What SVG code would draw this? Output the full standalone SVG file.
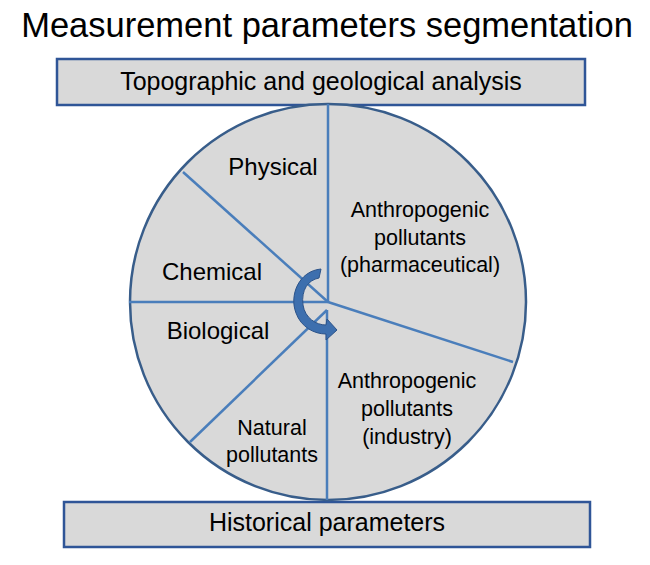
<svg xmlns="http://www.w3.org/2000/svg" width="650" height="565" viewBox="0 0 650 565">
<style>
.t{font-family:"Liberation Sans",Arial,sans-serif;fill:#000}
.s{font-size:21.5px}
.box{fill:#d9d9d9;stroke:#2f5597;stroke-width:2.5}
.div{stroke:#4a7ebb;stroke-width:2.5;fill:none}
</style>
<rect width="650" height="565" fill="#fff"/>
<text class="t" x="327" y="37" font-size="34.5" text-anchor="middle">Measurement parameters segmentation</text>
<g id="top-box">
<rect class="box" x="57" y="59" width="528" height="46"/>
<text class="t" x="321" y="90" font-size="25" text-anchor="middle">Topographic and geological analysis</text>
</g>
<g id="bottom-box">
<rect class="box" x="64" y="502" width="526" height="45"/>
<text class="t" x="327" y="531" font-size="25" text-anchor="middle">Historical parameters</text>
</g>
<g id="circle">
<circle cx="328" cy="302" r="198" fill="#d9d9d9" stroke="#385d8a" stroke-width="2.5"/>
</g>
<g id="connectors">
<line class="div" x1="328" y1="302" x2="328" y2="104"/>
<line class="div" x1="328" y1="302" x2="183" y2="172"/>
<line class="div" x1="328" y1="302" x2="129" y2="302"/>
<line class="div" x1="328" y1="302" x2="513" y2="362"/>
<line class="div" x1="327" y1="310" x2="327" y2="500"/>
<line class="div" x1="327" y1="310" x2="190" y2="442"/>
</g>
<g id="arrow">
<path d="M 321 269 C 299 271, 289 295, 296 313 C 301 327, 314 334, 326 334 L 326 340 L 337 330 L 327 319 L 326 325 C 316 325, 305 318, 303 305 C 301 290, 308 280, 319 278 Z" fill="#3d6fae" stroke="#2c5389" stroke-width="1"/>
</g>
<g id="physical"><text class="t" x="273" y="175" font-size="24" text-anchor="middle">Physical</text></g>
<g id="chemical"><text class="t" x="212" y="280" font-size="24" text-anchor="middle">Chemical</text></g>
<g id="biological"><text class="t" x="218" y="339" font-size="24" text-anchor="middle">Biological</text></g>
<g id="anthro-pharma">
<text class="t s" text-anchor="middle"><tspan x="420" y="217">Anthropogenic</tspan><tspan x="420" y="245">pollutants</tspan><tspan x="420" y="272">(pharmaceutical)</tspan></text>
</g>
<g id="anthro-industry">
<text class="t s" text-anchor="middle"><tspan x="407" y="388">Anthropogenic</tspan><tspan x="407" y="416">pollutants</tspan><tspan x="407" y="444">(industry)</tspan></text>
</g>
<g id="natural">
<text class="t s" text-anchor="middle"><tspan x="272" y="435">Natural</tspan><tspan x="272" y="462">pollutants</tspan></text>
</g>
</svg>
